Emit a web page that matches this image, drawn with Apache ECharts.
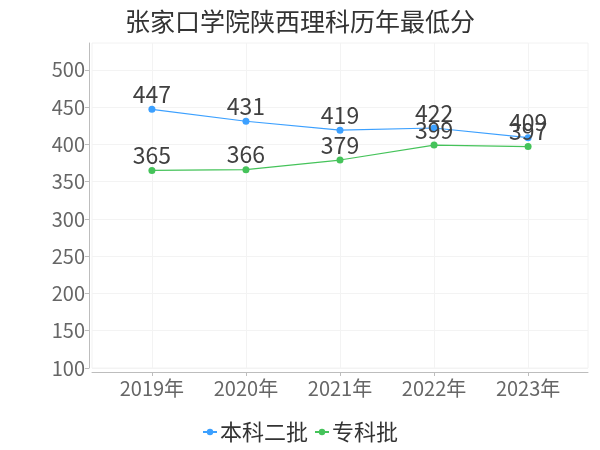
<!DOCTYPE html>
<html>
<head>
<meta charset="utf-8">
<script src="https://cdn.jsdelivr.net/npm/echarts@6/dist/echarts.min.js"></script>
<style>
  html, body { margin: 0; padding: 0; background: #fff; }
  #chart { width: 600px; height: 450px; }
</style>
</head>
<body>
<div id="chart"></div>
<script>
const years = ['2019年', '2020年', '2021年', '2022年', '2023年']
const erPi = [447, 431, 419, 422, 409]
const zhuanKe = [365, 366, 379, 399, 397]
const yTicks = [100, 150, 200, 250, 300, 350, 400, 450, 500]

const font = '"Noto Sans CJK SC", "Noto Sans", sans-serif'
const idx = years.map((_, i) => i)
const toPoints = (vals) => vals.map((v, i) => [i, v])

const chart = echarts.init(document.getElementById('chart'))

const labelStyle = {
  show: true,
  position: 'top',
  distance: 0,
  fontSize: 23,
  color: '#404040',
  fontFamily: font
}

chart.setOption({
  animation: false,
  title: {
    text: '张家口学院陕西理科历年最低分',
    left: 'center',
    top: 4,
    textStyle: { fontSize: 25, fontWeight: 'normal', color: '#333', fontFamily: font }
  },
  legend: {
    bottom: 2,
    left: 'center',
    itemWidth: 14,
    itemHeight: 8,
    itemGap: 6,
    textStyle: { fontSize: 22, color: '#333', fontFamily: font, padding: [0, 0, 0, -2] },
    data: ['本科二批', '专科批']
  },
  grid: {
    left: 92,
    right: 12,
    top: 43,
    bottom: 82,
    show: true,
    borderColor: '#f2f2f2',
    borderWidth: 1
  },
  xAxis: {
    type: 'value',
    min: -0.637,
    max: 4.637,
    offset: 4,
    axisLine: { show: true, onZero: false, lineStyle: { color: '#bdbdbd' } },
    axisTick: { show: true, length: 4, customValues: idx, lineStyle: { color: '#bdbdbd' } },
    axisLabel: {
      customValues: idx,
      formatter: (v) => years[Math.round(v)],
      fontSize: 20,
      color: '#666',
      fontFamily: font,
      margin: 6
    },
    splitLine: { show: true, lineStyle: { color: '#f3f3f3' } }
  },
  yAxis: {
    type: 'value',
    min: 100,
    max: 536,
    interval: 50,
    offset: 3,
    axisLine: { show: true, onZero: false, lineStyle: { color: '#bdbdbd' } },
    axisTick: { show: true, length: 4, customValues: yTicks, lineStyle: { color: '#bdbdbd' } },
    axisLabel: {
      customValues: yTicks,
      fontSize: 20,
      color: '#666',
      fontFamily: font,
      margin: 4
    },
    splitLine: { show: true, lineStyle: { color: '#f3f3f3' } }
  },
  series: [
    {
      name: '本科二批',
      type: 'line',
      data: toPoints(erPi),
      symbol: 'circle',
      symbolSize: 7,
      color: '#3ca0ff',
      lineStyle: { width: 1.2 },
      label: labelStyle
    },
    {
      name: '专科批',
      type: 'line',
      data: toPoints(zhuanKe),
      symbol: 'circle',
      symbolSize: 7,
      color: '#45c35a',
      lineStyle: { width: 1.2 },
      label: labelStyle
    }
  ]
})
</script>
</body>
</html>
